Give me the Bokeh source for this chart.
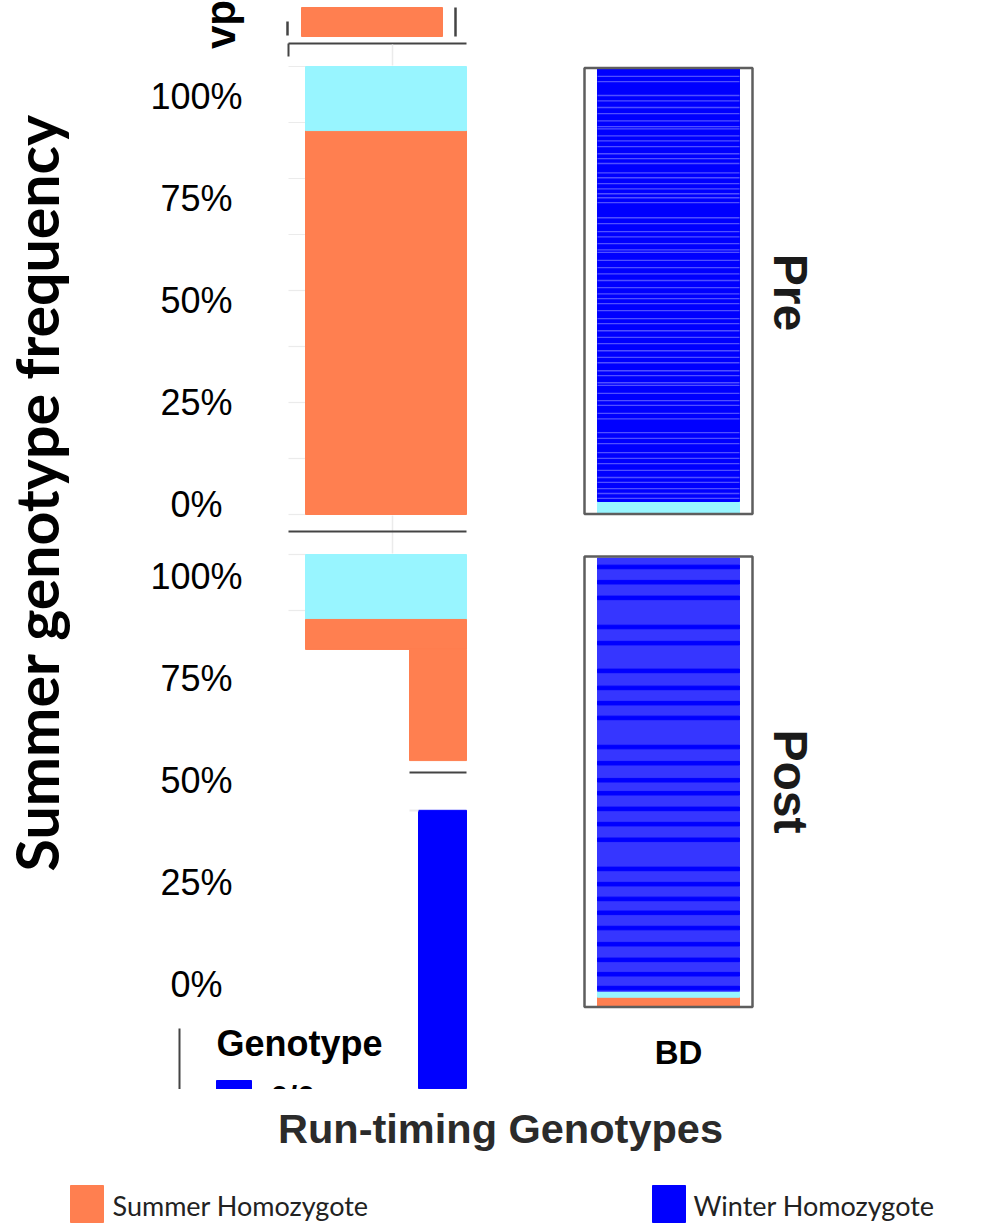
from math import pi
from bokeh.plotting import figure
from bokeh.models import Range1d
from bokeh.core.properties import value
from bokeh.embed import file_html
from bokeh.resources import INLINE

# ---------------- data ----------------
genotype_colors = {"Summer Homozygote": "#FF7F50", "Heterozygote": "#98F5FF",
                   "Winter Homozygote": "#0000FF"}

tick_values = [0, 25, 50, 75, 100]
tick_labels = ["0%", "25%", "50%", "75%", "100%"]
grid_values = [0, 12.5, 25, 37.5, 50, 62.5, 75, 87.5, 100]
post_grid_values = [87.5, 100]

# top strip (cropped panel above)
strip_genotype = ["Summer Homozygote"]
strip_bottom = [0]
strip_top = [100]

# left panel, Pre (stacked %)
pre_left_genotype = ["Summer Homozygote", "Heterozygote"]
pre_left_freq = [85.7, 14.3]

# left panel, Post (pieces: genotype, bottom %, top %, column)
post_left_genotype = ["Heterozygote", "Summer Homozygote", "Summer Homozygote", "Winter Homozygote"]
post_left_bottom = [85.5, 78.8, 54.0, -19.2]
post_left_top = [100, 85.5, 78.8, 42.9]
post_left_column = ["wide", "wide", "narrow", "narrower"]

# right panel BD, Pre (stacked %)
pre_right_genotype = ["Heterozygote", "Winter Homozygote"]
pre_right_freq = [2.7, 97.3]
# boundaries between individual stacked samples (%)
pre_right_sample_edges = [98.3, 97.1, 94.0, 92.8, 91.3, 89.9, 88.3, 87.0, 86.5, 84.9, 83.8,
                          82.5, 80.9, 79.8, 78.7, 76.6, 75.5, 74.2, 73.0, 71.9, 71.0, 69.9,
                          66.5, 65.2, 63.4, 62.2, 60.7, 59.3, 58.7, 56.9, 55.3, 53.9, 52.4,
                          50.8, 49.4, 48.3, 47.2, 45.6, 43.8, 42.7, 41.1, 39.6, 38.2, 36.6,
                          35.1, 33.9, 32.1, 31.0, 29.4, 28.8, 27.0, 25.4, 24.3, 22.5, 21.3,
                          18.2, 16.9, 15.7, 13.7, 12.4, 11.2, 9.7, 8.1, 7.0, 5.6, 4.5, 3.4]

# right panel BD, Post (stacked %)
post_right_genotype = ["Summer Homozygote", "Heterozygote", "Winter Homozygote"]
post_right_freq = [1.96, 1.34, 96.7]
# darker sample bands within the winter block (% centres)
post_right_dark_bands = [98.0, 94.6, 91.1, 84.6, 81.0, 74.8, 71.0, 67.6, 64.3, 57.8, 54.2,
                         50.4, 47.5, 44.0, 40.6, 37.1, 30.6, 27.2, 23.9, 20.8, 17.4, 13.8,
                         10.3, 7.1, 4.0]

legend_labels = ["Summer Homozygote", "Winter Homozygote"]

# ---------------- layout (screen pixels) ----------------
W, H = 968, 1226
p = figure(width=W, height=H, x_range=Range1d(0, W), y_range=Range1d(H, 0),
           x_axis_type=None, y_axis_type=None, toolbar_location=None,
           output_backend="svg", min_border=0)
p.outline_line_color = None
p.grid.visible = False
p.background_fill_color = "white"


def panel_range(y0, y100):
    k = (y0 - y100) / 100.0
    return Range1d(start=(y0 - H) / k, end=y0 / k)


p.extra_y_ranges = {
    "strip": panel_range(36, 7),
    "pre_left": panel_range(514, 66),
    "post_left": panel_range(1002, 554),
    "pre_ticks": panel_range(504, 96),
    "post_ticks": panel_range(984, 576),
    "pre_right": panel_range(513, 68.3),
    "post_right": panel_range(1005.5, 557.5),
}

cols_x = {"wide": (305, 466), "narrow": (409, 466), "narrower": (418, 466)}
GRID = "#EBEBEB"
DARK = "#444444"

# ---- top strip pieces ----
p.quad(left=301, right=442, bottom=strip_bottom, top=strip_top,
       color=[genotype_colors[g] for g in strip_genotype], y_range_name="strip")
p.segment(x0=[287, 455], x1=[287, 455], y0=[21, 7], y1=[35, 36], line_color=DARK, line_width=2.5)
p.segment(x0=[288, 288], x1=[466, 288], y0=[43, 43], y1=[43, 56], line_color=DARK, line_width=2)
p.segment(x0=392, x1=392, y0=44, y1=65, line_color=GRID, line_width=1.5)
p.text(x=[220], y=[24], text=["vp"], angle=pi / 2, text_font=value("Liberation Sans"),
       text_font_size=value("42px"), text_font_style="bold", text_align="center",
       text_baseline="middle", text_color="black")

# ---- left Pre panel ----
p.segment(x0=288, x1=305, y0=grid_values, y1=grid_values, line_color=GRID,
          line_width=1.2, y_range_name="pre_left")
pre_bot, acc = [], 0
for f in pre_left_freq:
    pre_bot.append(acc)
    acc += f
pre_top = [b + f for b, f in zip(pre_bot, pre_left_freq)]
p.quad(left=305, right=466, bottom=pre_bot, top=pre_top,
       color=[genotype_colors[g] for g in pre_left_genotype], y_range_name="pre_left")
p.segment(x0=392, x1=392, y0=515, y1=553, line_color=GRID, line_width=1.5)
p.segment(x0=288, x1=466, y0=531, y1=531, line_color=DARK, line_width=2.2)

# ---- left Post panel ----
p.segment(x0=288, x1=305, y0=post_grid_values, y1=post_grid_values, line_color=GRID,
          line_width=1.2, y_range_name="post_left")
p.quad(left=[cols_x[c][0] for c in post_left_column],
       right=[cols_x[c][1] for c in post_left_column],
       bottom=post_left_bottom, top=post_left_top,
       color=[genotype_colors[g] for g in post_left_genotype], y_range_name="post_left")
p.segment(x0=409, x1=466, y0=772, y1=772, line_color=DARK, line_width=2.2)
p.segment(x0=409, x1=418, y0=810, y1=810, line_color=GRID, line_width=2)

# ---- y tick labels ----
for rn in ["pre_ticks", "post_ticks"]:
    p.text(x=[196] * len(tick_values), y=tick_values, text=tick_labels, y_range_name=rn,
           text_font=value("Liberation Sans"), text_font_size=value("36px"),
           text_align="center", text_baseline="middle", text_color="black")

# ---- y axis title ----
p.text(x=[36], y=[492], text=["Summer genotype frequency"], angle=pi / 2,
       text_font=value("Lato"), text_font_size=value("59px"), text_font_style="bold",
       text_align="center", text_baseline="middle", text_color="black")

# ---- right Pre panel ----
acc, rb = 0, []
for f in pre_right_freq:
    rb.append(acc)
    acc += f
rt = [b + f for b, f in zip(rb, pre_right_freq)]
p.quad(left=597, right=739, bottom=rb, top=rt,
       color=[genotype_colors[g] for g in pre_right_genotype], y_range_name="pre_right")
p.segment(x0=597, x1=739, y0=pre_right_sample_edges, y1=pre_right_sample_edges,
          line_color="#5050FF", line_width=1.3, y_range_name="pre_right")
p.quad(left=584, right=752, bottom=513.5, top=67.5, fill_color=None,
       line_color="#5E5E5E", line_width=2.5)

# ---- right Post panel ----
acc, qb = 0, []
for f in post_right_freq:
    qb.append(acc)
    acc += f
qt = [b + f for b, f in zip(qb, post_right_freq)]
post_right_colors = [genotype_colors[g] for g in post_right_genotype]
post_right_colors[2] = "#3636FF"
p.quad(left=597, right=739, bottom=qb, top=qt, color=post_right_colors,
       y_range_name="post_right")
p.quad(left=597, right=739, bottom=[c - 0.4 for c in post_right_dark_bands],
       top=[c + 0.4 for c in post_right_dark_bands], color=genotype_colors["Winter Homozygote"],
       y_range_name="post_right")
p.quad(left=584, right=752, bottom=1006.5, top=556, fill_color=None,
       line_color="#5E5E5E", line_width=2.5)

# ---- facet labels ----
p.text(x=[790, 790], y=[292, 781], text=["Pre", "Post"], angle=-pi / 2,
       text_font=value("Liberation Sans"), text_font_size=value("48px"),
       text_font_style="bold", text_align="center", text_baseline="middle", text_color="#1a1a1a")
p.text(x=[678], y=[1052], text=["BD"], text_font=value("Liberation Sans"),
       text_font_size=value("33px"), text_font_style="bold", text_align="center",
       text_baseline="middle", text_color="black")

# ---- cropped legend ----
p.segment(x0=179, x1=179, y0=1028, y1=1090, line_color=DARK, line_width=2)
p.text(x=[216], y=[1043], text=["Genotype"], text_font=value("Liberation Sans"),
       text_font_size=value("36px"), text_font_style="bold", text_align="left",
       text_baseline="middle", text_color="black")
p.quad(left=216, right=251, bottom=1095, top=1080, color=genotype_colors["Winter Homozygote"])
p.text(x=[270], y=[1078], text=["0/0"], text_font=value("Liberation Sans"),
       text_font_size=value("32px"), text_font_style="bold", text_align="left",
       text_baseline="top", text_color="black")
p.quad(left=160, right=480, bottom=1111, top=1088.5, fill_color="white", line_color=None)

# ---- x title ----
p.text(x=[500], y=[1128], text=["Run-timing Genotypes"], text_font=value("Liberation Sans"),
       text_font_size=value("41.5px"), text_font_style="bold", text_align="center",
       text_baseline="middle", text_color="#2b2b2b")

# ---- bottom legend ----
p.quad(left=[70, 652], right=[103, 685], bottom=[1222, 1222], top=[1185, 1185],
       color=[genotype_colors[g] for g in legend_labels])
p.text(x=[112, 693], y=[1205, 1205], text=legend_labels, text_font=value("Lato"),
       text_font_size=value("27px"), text_align="left", text_baseline="middle",
       text_color="#222222")

open("out.html", "w").write(file_html(p, INLINE))
